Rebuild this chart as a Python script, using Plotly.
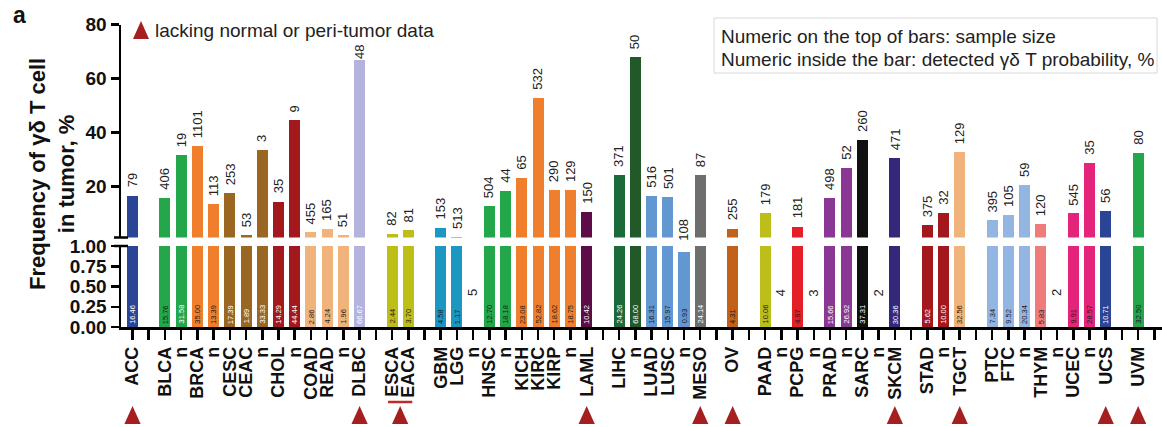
import plotly.graph_objects as go

W, H = 1162, 427

# ---------------- data ----------------
labels = ["ACC", "", "BLCA", "n", "BRCA", "n", "CESC", "CEAC", "n", "CHOL", "n",
          "COAD", "READ", "n", "DLBC", "", "ESCA", "EACA", "", "GBM", "LGG", "n",
          "HNSC", "n", "KICH", "KIRC", "KIRP", "n", "LAML", "", "LIHC", "n",
          "LUAD", "LUSC", "n", "MESO", "", "OV", "", "PAAD", "n", "PCPG", "n",
          "PRAD", "n", "SARC", "n", "SKCM", "", "STAD", "n", "TGCT", "",
          "PTC", "FTC", "n", "THYM", "n", "UCEC", "n", "UCS", "", "UVM", ""]

freq = [16.46, None, 15.76, 31.58, 35.00, 13.39, 17.39, 1.89, 33.33, 14.29, 44.44,
        2.86, 4.24, 1.96, 66.67, None, 2.44, 3.70, None, 4.58, 1.17, 0,
        12.70, 18.18, 23.08, 52.82, 18.62, 18.75, 10.42, None, 24.26, 68.00,
        16.31, 15.97, 0.93, 24.14, None, 4.31, None, 10.06, 0, 4.97, 0,
        15.66, 26.92, 37.31, 0, 30.36, None, 5.62, 10.00, 32.56, None,
        7.34, 9.52, 20.34, 5.83, 0, 9.91, 28.57, 10.71, None, 32.50, None]

samples = [79, None, 406, 19, 1101, 113, 253, 53, 3, 35, 9,
           455, 165, 51, 48, None, 82, 81, None, 153, 513, 5,
           504, 44, 65, 532, 290, 129, 150, None, 371, 50,
           516, 501, 108, 87, None, 255, None, 179, 4, 181, 3,
           498, 52, 260, 2, 471, None, 375, 32, 129, None,
           395, 105, 59, 120, 2, 545, 35, 56, None, 80, None]

colors = ["#2B4596", None, "#23A74A", "#23A74A", "#F07F2D", "#F07F2D",
          "#9B6622", "#9B6622", "#9B6622", "#A2181C", "#A2181C",
          "#F0B37B", "#F0B37B", "#F0B37B", "#B3B3DE", None, "#BEBF16", "#BEBF16", None,
          "#1B97C1", "#1B97C1", "#1B97C1", "#23A74A", "#23A74A",
          "#F07F2D", "#F07F2D", "#F07F2D", "#F07F2D", "#5D0C47", None,
          "#1B6A39", "#215A28", "#6297D2", "#6297D2", "#6297D2", "#6E6E6E", None,
          "#C2621A", None, "#BEBE1A", "#BEBE1A", "#E41F27", "#E41F27",
          "#8A3694", "#8A3694", "#101010", "#101010", "#33287A", None,
          "#A2181C", "#A2181C", "#F0B37B", None,
          "#93B5E2", "#93B5E2", "#93B5E2", "#F07B7B", "#F07B7B",
          "#E4247A", "#E4247A", "#2B4596", None, "#23A74A", None]

inside_dark = ["w", None, "k", "w", "k", "k", "w", "w", "w", "w", "w",
               "k", "k", "k", "w", None, "k", "k", None, "k", "k", "k",
               "k", "k", "k", "k", "k", "k", "w", None, "w", "w",
               "k", "k", "k", "w", None, "k", None, "k", "k", "k", "k",
               "w", "w", "w", "w", "w", None, "w", "w", "k", None,
               "k", "k", "k", "k", "k", "k", "k", "w", None, "k", None]

lacking = ["ACC", "DLBC", "ESCA/EACA", "LAML", "MESO", "OV", "SKCM", "TGCT", "UCS", "UVM"]
tight_label = ["DLBC"]  # sample-size label squeezed under the legend line

upper_ticks = [20, 40, 60, 80]
lower_ticks = [0, 0.25, 0.5, 0.75, 1.0]

# ---------------- geometry helpers ----------------
def py(pix):
    return (H - pix) / H

def px(pix):
    return pix / W

x = list(range(len(labels)))
FONT = "Liberation Sans, Arial, sans-serif"

fig = go.Figure()

lower_vals = [None if v is None else min(v, 1.0) for v in freq]
fig.add_trace(go.Bar(x=x, y=lower_vals, yaxis="y", marker_color=[c or "#fff" for c in colors],
                     marker_line_width=0, width=0.68, showlegend=False, hoverinfo="skip"))
fig.add_trace(go.Bar(x=x, y=freq, yaxis="y2", marker_color=[c or "#fff" for c in colors],
                     marker_line_width=0, width=0.68, showlegend=False, hoverinfo="skip"))

ann = []
for i, (v, n) in enumerate(zip(freq, samples)):
    if v is None:
        continue
    # sample size on top
    if v >= 1:
        ann.append(dict(x=i, y=v, xref="x", yref="y2", text=str(n), textangle=-90,
                        yanchor="bottom", xanchor="center", showarrow=False,
                        yshift=-1 if labels[i] in tight_label else 6,
                        font=dict(size=13, color="#222", family=FONT)))
    elif v > 0:
        ann.append(dict(x=i, y=v, xref="x", yref="y", text=str(n), textangle=-90,
                        yanchor="bottom", xanchor="center", showarrow=False, yshift=9,
                        font=dict(size=13, color="#222", family=FONT)))
    else:
        ann.append(dict(x=i, y=0.42, xref="x", yref="y", text=str(n), textangle=-90,
                        yanchor="middle", xanchor="center", showarrow=False,
                        font=dict(size=13, color="#222", family=FONT)))
    # probability inside bar
    if v > 0:
        ann.append(dict(x=i, y=0.015, xref="x", yref="y", text=f"{v:.2f}", textangle=-90,
                        yanchor="bottom", xanchor="center", showarrow=False,
                        font=dict(size=7.5, color="#ffffff" if inside_dark[i] == "w" else "#1a1a1a",
                                  family=FONT)))

# panel letter, axis title
ann.append(dict(x=px(19), y=py(15), xref="paper", yref="paper", text="<b>a</b>", showarrow=False,
                font=dict(size=23, color="#111", family=FONT), xanchor="center", yanchor="middle"))
ann.append(dict(x=px(52), y=py(174), xref="paper", yref="paper",
                text="<b>Frequency of γδ T cell<br>in tumor, %</b>", textangle=-90, showarrow=False,
                font=dict(size=22, color="#111", family=FONT), xanchor="center", yanchor="middle"))
# legend text
ann.append(dict(x=px(153), y=py(31), xref="paper", yref="paper", text="lacking normal or peri-tumor data",
                showarrow=False, xanchor="left", yanchor="middle",
                font=dict(size=19, color="#222", family=FONT)))
ann.append(dict(x=px(719), y=py(37), xref="paper", yref="paper",
                text="Numeric on the top of bars: sample size", showarrow=False, xanchor="left",
                yanchor="middle", font=dict(size=19, color="#222", family=FONT)))
ann.append(dict(x=px(719), y=py(59), xref="paper", yref="paper",
                text="Numeric inside the bar: detected γδ T probability, %", showarrow=False,
                xanchor="left", yanchor="middle", font=dict(size=19, color="#222", family=FONT)))

shapes = []
TRI = "#A51F1F"
# legend triangle
shapes.append(dict(type="path", xref="paper", yref="paper",
                   path=f"M{px(133)},{py(39)} L{px(149)},{py(39)} L{px(141)},{py(21)} Z",
                   fillcolor=TRI, line=dict(width=0)))
# note box
shapes.append(dict(type="rect", xref="paper", yref="paper", x0=px(714), x1=px(1157), y0=py(18), y1=py(73),
                   line=dict(color="#D8D8D8", width=1), fillcolor="rgba(0,0,0,0)"))
# triangles under lacking categories
for name in lacking:
    parts = name.split("/")
    idx = [labels.index(p) for p in parts]
    c = sum(idx) / len(idx)
    shapes.append(dict(type="path", xref="x", yref="paper",
                       path=f"M{c-0.5},{py(424)} L{c+0.5},{py(424)} L{c},{py(406)} Z",
                       fillcolor=TRI, line=dict(width=0)))
    if len(idx) > 1:
        shapes.append(dict(type="line", xref="x", yref="paper", x0=min(idx) - 0.25, x1=max(idx) + 0.25,
                           y0=py(402), y1=py(402), line=dict(color="#C0282B", width=2.5)))
# axis break marks
for yy in (py(237.5), py(246)):
    shapes.append(dict(type="line", xref="paper", yref="paper", x0=px(114), x1=px(128), y0=yy, y1=yy,
                       line=dict(color="black", width=2.5)))

axis_common = dict(showline=True, linecolor="black", linewidth=2.5, ticks="outside", ticklen=8,
                   tickwidth=2.5, tickcolor="black", showgrid=False, zeroline=False,
                   tickfont=dict(size=19, color="#111", family=FONT, weight="bold"),
                   automargin=False, anchor="x", fixedrange=True)

fig.update_layout(
    width=W, height=H, margin=dict(l=0, r=0, t=0, b=0),
    paper_bgcolor="white", plot_bgcolor="white", template="none",
    font=dict(family=FONT), bargap=0, barmode="overlay",
    xaxis=dict(domain=[px(121), 1], range=[-0.71, 63.47], tickmode="array", tickvals=x,
               ticktext=labels, tickangle=-90, showline=True, linecolor="black", linewidth=2.5,
               ticks="outside", ticklen=10, tickwidth=2.5, tickcolor="black", showgrid=False,
               zeroline=False, automargin=False, anchor="y", fixedrange=True,
               tickfont=dict(size=18, color="#111", family=FONT, weight="bold")),
    yaxis=dict(domain=[py(327), py(246)], range=[0, 1], tickmode="array", tickvals=lower_ticks,
               ticktext=[f"{t:.2f}" for t in lower_ticks], **axis_common),
    yaxis2=dict(domain=[py(237.5), py(24.5)], range=[1, 80], tickmode="array", tickvals=upper_ticks,
                ticktext=[str(t) for t in upper_ticks], **axis_common),
    annotations=ann, shapes=shapes, showlegend=False,
)

fig.write_html("out.html", config={"displayModeBar": False, "staticPlot": True},
               post_script="document.body.style.margin='0';document.body.style.padding='0';document.body.style.overflow='hidden';")
